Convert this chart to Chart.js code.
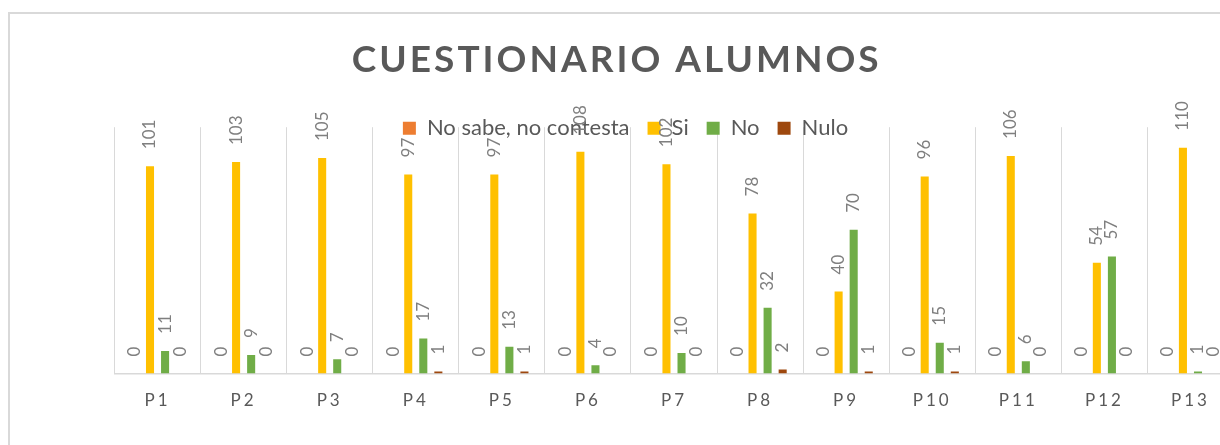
<!DOCTYPE html>
<html lang="es">
<head>
<meta charset="utf-8">
<title>Cuestionario alumnos</title>
<script src="https://cdn.jsdelivr.net/npm/chart.js@4.4.0/dist/chart.umd.min.js"></script>
<style>
    body { margin: 0; background: #fff; overflow: hidden; }
    #marco { position: absolute; left: 8px; top: 12px; width: 1300px; height: 500px; border: 2px solid #d9d9d9; box-sizing: border-box; }
    #lienzo { position: absolute; left: 0; top: 0; width: 1240px; height: 445px; }
</style>
</head>
<body>
<div id="marco"></div>
<div id="lienzo"><canvas id="graficoAlumnos" width="1240" height="445"></canvas></div>
<script>
// Datos
const preguntas = ['P1', 'P2', 'P3', 'P4', 'P5', 'P6', 'P7', 'P8', 'P9', 'P10', 'P11', 'P12', 'P13'];
const noSabe = [0, 0, 0, 0, 0, 0, 0, 0, 0, 0, 0, 0, 0];
const si = [101, 103, 105, 97, 97, 108, 102, 78, 40, 96, 106, 54, 110];
const no = [11, 9, 7, 17, 13, 4, 10, 32, 70, 15, 6, 57, 1];
const nulo = [0, 0, 0, 1, 1, 0, 0, 2, 1, 1, 0, 0, 0];

const gris = '#595959';

// Etiquetas de valor giradas encima de cada barra
const etiquetas = {
    id: 'etiquetas',
    afterDatasetsDraw(chart) {
        const ctx = chart.ctx;
        ctx.save();
        ctx.font = '17px Lato';
        ctx.fillStyle = '#7f7f7f';
        ctx.textAlign = 'left';
        ctx.textBaseline = 'middle';
        chart.data.datasets.forEach((ds, i) => {
            chart.getDatasetMeta(i).data.forEach((barra, j) => {
                ctx.save();
                ctx.translate(barra.x, barra.y - 17);
                ctx.rotate(-Math.PI / 2);
                ctx.fillText(ds.data[j], 0, 0);
                ctx.restore();
            });
        });
        ctx.restore();
    }
};

// Espaciado de letras en título y eje, y leyenda horizontal superpuesta al área
const ajustes = {
    id: 'ajustes',
    beforeLayout(chart) {
        if (chart.legend) chart.legend.isHorizontal = () => true;
    },
    afterLayout(chart) {
        const x = chart.scales.x;
        if (!x._espaciado) {
            const dibujar = x.drawLabels;
            x.drawLabels = function (area) {
                this.ctx.save();
                this.ctx.letterSpacing = '3px';
                dibujar.call(this, area);
                this.ctx.restore();
            };
            x._espaciado = true;
        }
        const t = chart.titleBlock;
        if (t && !t._espaciado) {
            const dibujarT = t.draw;
            t.draw = function () {
                this.ctx.save();
                this.ctx.letterSpacing = '3px';
                dibujarT.call(this);
                this.ctx.restore();
            };
            t._espaciado = true;
        }
        const l = chart.legend;
        l.top -= 28; l.bottom -= 28;
        l.left += 66; l.right += 66;
    }
};

const ctx = document.getElementById('graficoAlumnos').getContext('2d');
new Chart(ctx, {
    type: 'bar',
    data: {
        labels: preguntas,
        datasets: [
            { label: 'No sabe, no contesta', data: noSabe, backgroundColor: '#ED7D31' },
            { label: 'Si', data: si, backgroundColor: '#FFC000' },
            { label: 'No', data: no, backgroundColor: '#70AD47' },
            { label: 'Nulo', data: nulo, backgroundColor: '#9E480E' }
        ]
    },
    options: {
        responsive: false,
        animation: false,
        events: [],
        categoryPercentage: 0.7,
        barPercentage: 0.535,
        layout: { padding: { left: 0, right: 6.5, top: 0, bottom: 0 } },
        plugins: {
            title: {
                display: true,
                text: 'CUESTIONARIO ALUMNOS',
                color: gris,
                font: { family: 'Lato', size: 37, weight: 'bold' },
                padding: { top: 37.8, bottom: 45 }
            },
            legend: {
                position: 'chartArea',
                labels: {
                    color: gris,
                    font: { family: 'Lato', size: 22 },
                    boxWidth: 13,
                    boxHeight: 13,
                    padding: 18
                }
            },
            tooltip: { enabled: false }
        },
        scales: {
            x: {
                grid: { color: '#d9d9d9', lineWidth: 1, drawTicks: false },
                border: { color: '#d9d9d9', width: 1.5 },
                ticks: { color: gris, font: { family: 'Lato', size: 17 }, padding: 17 },
                afterFit: (s) => { s.height = 71.5; }
            },
            y: {
                min: 0,
                max: 120,
                grid: { display: false },
                border: { display: false },
                ticks: { display: false },
                afterFit: (s) => { s.width = 114.5; }
            }
        }
    },
    plugins: [etiquetas, ajustes]
});
</script>
</body>
</html>
